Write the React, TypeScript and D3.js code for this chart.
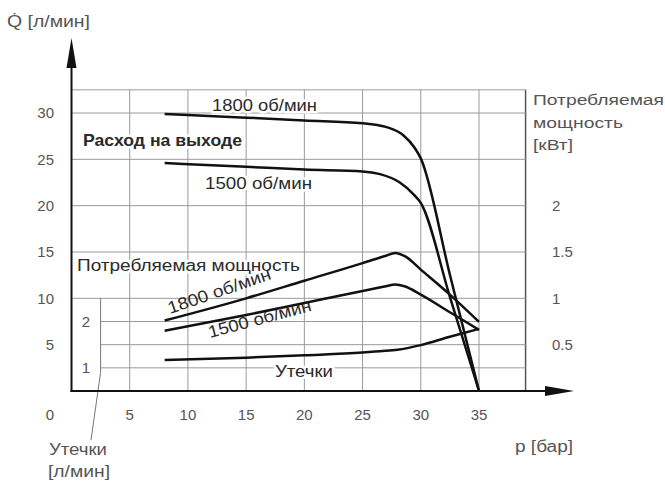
import React from "react";
import * as d3 from "d3";

// pressure (bar) vs flow (l/min)
const flow1800: [number, number][] = [
  [8, 29.9], [15, 29.5], [20, 29.2], [25, 28.9], [27, 28.5], [28.5, 27.6], [29.5, 26.2], [30, 25.1], [32.5, 12.55], [35, 0],
];
const flow1500: [number, number][] = [
  [8, 24.6], [15, 24.2], [20, 23.9], [25, 23.7], [26.5, 23.4], [28.2, 22.5], [29.4, 21.2], [30, 20.3], [32.5, 10.15], [35, 0],
];
// pressure (bar) vs power (kW)
const power1800: [number, number][] = [
  [8, 0.76], [15, 1.0], [20, 1.19], [25, 1.38], [27, 1.46], [27.8, 1.49], [28.7, 1.45], [30, 1.31], [32.5, 1.04], [35, 0.745],
];
const power1500: [number, number][] = [
  [8, 0.65], [15, 0.82], [20, 0.95], [25, 1.08], [27, 1.13], [27.8, 1.15], [28.6, 1.13], [30, 1.04], [32.5, 0.85], [35, 0.66],
];
// pressure (bar) vs leakage (l/min)
const leakage: [number, number][] = [
  [8, 1.17], [15, 1.22], [20, 1.27], [25, 1.33], [26.5, 1.36], [28, 1.39], [30, 1.49], [32.5, 1.67], [35, 1.84],
];

const xTicks = [5, 10, 15, 20, 25, 30, 35];
const qTicks = [5, 10, 15, 20, 25, 30];
const qGridFull = [10, 15, 20, 25, 30, 32.5];
const qGridPart = [2.5, 5, 7.5];
const pTicks = ["0.5", "1", "1.5", "2"];
const lTicks = ["1", "2"];

const FONT = "'Liberation Sans', Arial, sans-serif";

export default function App() {
  const x = d3.scaleLinear().domain([0, 35]).range([71.5, 479]);
  const yQ = d3.scaleLinear().domain([0, 30]).range([391, 113]);
  const yP = d3.scaleLinear().domain([0, 2]).range([yQ(0), yQ(20)]);
  const yL = d3.scaleLinear().domain([1, 2]).range([yQ(2.5), yQ(7.5)]);
  const xMax = 39;

  const lineQ = d3.line<[number, number]>().x(d => x(d[0])).y(d => yQ(d[1])).curve(d3.curveMonotoneX);
  const lineP = d3.line<[number, number]>().x(d => x(d[0])).y(d => yP(d[1])).curve(d3.curveMonotoneX);
  const lineL = d3.line<[number, number]>().x(d => x(d[0])).y(d => yL(d[1])).curve(d3.curveMonotoneX);

  const grid = "#9a9a9a";
  const labelColor = "#555";
  const ink = "#2a2a2a";
  const halo = { stroke: "#fff", strokeWidth: 5, paintOrder: "stroke" as const, strokeLinejoin: "round" as const };
  const fit = (w: number) => ({ textLength: w, lengthAdjust: "spacingAndGlyphs" as const });

  return (
    <svg width={665} height={481} style={{ position: "absolute", left: 0, top: 0, background: "#fff" }} fontFamily={FONT}>
      <rect width={665} height={481} fill="#fff" />
      {/* vertical grid */}
      {xTicks.map(t => (
        <line key={"vx" + t} x1={x(t)} x2={x(t)} y1={yQ(0)} y2={yQ(32.5)} stroke={grid} strokeWidth={1} />
      ))}
      <line x1={x(xMax)} x2={x(xMax)} y1={yQ(0)} y2={yQ(32.5)} stroke="#555" strokeWidth={1.5} />
      {/* horizontal grid */}
      {qGridFull.map(t => (
        <line key={"hq" + t} x1={x(0)} x2={x(xMax)} y1={yQ(t)} y2={yQ(t)} stroke={grid} strokeWidth={1} />
      ))}
      {qGridPart.map(t => (
        <line key={"hp" + t} x1={x(2.5)} x2={x(xMax)} y1={yQ(t)} y2={yQ(t)} stroke={grid} strokeWidth={1} />
      ))}
      {/* leakage sub-axis */}
      <line x1={x(2.5)} x2={x(2.5)} y1={yQ(10)} y2={yQ(2)} stroke="#777" strokeWidth={1} />
      <line x1={x(2.5)} x2={91} y1={yQ(2)} y2={440} stroke="#777" strokeWidth={1} />

      {/* labels */}
      <text x={83} y={146} fontSize={17} fontWeight="bold" fill={ink} {...halo} {...fit(159)}>Расход на выходе</text>
      <text x={212} y={111} fontSize={17} fill={ink} {...halo} {...fit(105)}>1800 об/мин</text>
      <text x={205} y={189} fontSize={17} fill={ink} {...halo} {...fit(107)}>1500 об/мин</text>
      <text x={77} y={271} fontSize={16} fill={ink} {...halo} {...fit(223)}>Потребляемая мощность</text>
      <text x={275} y={377} fontSize={16} fill={ink} {...halo} {...fit(58)}>Утечки</text>
      <text x={0} y={0} fontSize={17} fill={ink} transform="translate(170,314) rotate(-19)" {...fit(108)}>1800 об/мин</text>
      <text x={0} y={0} fontSize={17} fill={ink} transform="translate(210,338) rotate(-15)" {...fit(106)}>1500 об/мин</text>

      {/* curves */}
      <path d={lineQ(flow1800) || ""} fill="none" stroke="#111" strokeWidth={2.5} />
      <path d={lineQ(flow1500) || ""} fill="none" stroke="#111" strokeWidth={2.5} />
      <path d={lineP(power1800) || ""} fill="none" stroke="#111" strokeWidth={2.5} />
      <path d={lineP(power1500) || ""} fill="none" stroke="#111" strokeWidth={2.5} />
      <path d={lineL(leakage) || ""} fill="none" stroke="#111" strokeWidth={2.5} />

      {/* axes */}
      <line x1={x(0)} x2={x(0)} y1={yQ(0) + 1} y2={66} stroke="#111" strokeWidth={2} />
      <path d={`M${x(0)},38 L${x(0) - 5},68 L${x(0) + 5},68 Z`} fill="#111" />
      <line x1={x(0) - 1} x2={548} y1={yQ(0)} y2={yQ(0)} stroke="#111" strokeWidth={2} />
      <path d={`M574,${yQ(0)} L545,${yQ(0) - 5} L545,${yQ(0) + 5} Z`} fill="#111" />

      {/* left tick labels */}
      {qTicks.map(t => (
        <text key={"ql" + t} x={54} y={yQ(t)} dy="0.35em" textAnchor="end" fontSize={15} fill={labelColor}>{t}</text>
      ))}
      <text x={54} y={415} dy="0.35em" textAnchor="end" fontSize={15} fill={labelColor}>0</text>
      {/* bottom tick labels */}
      {xTicks.map(t => (
        <text key={"xl" + t} x={x(t)} y={415} dy="0.35em" textAnchor="middle" fontSize={15} fill={labelColor}>{t}</text>
      ))}
      {/* right power labels */}
      {pTicks.map(t => (
        <text key={"pl" + t} x={552} y={yP(+t)} dy="0.35em" fontSize={15} fill={labelColor}>{t}</text>
      ))}
      {/* leakage labels */}
      {lTicks.map(t => (
        <text key={"ll" + t} x={86} y={yL(+t)} dy="0.35em" textAnchor="middle" fontSize={15} fill={labelColor}>{t}</text>
      ))}

      {/* axis titles */}
      <text x={7} y={21} dy="0.35em" fontSize={16} fill={labelColor} {...fit(83)}>Q̇ [л/мин]</text>
      <text x={515} y={446} dy="0.35em" fontSize={16} fill={labelColor} {...fit(58)}>p [бар]</text>
      <text x={533} y={100} dy="0.35em" fontSize={15.5} fill={labelColor} {...fit(131)}>Потребляемая</text>
      <text x={533} y={123} dy="0.35em" fontSize={15.5} fill={labelColor} {...fit(90)}>мощность</text>
      <text x={533} y={145} dy="0.35em" fontSize={15.5} fill={labelColor} {...fit(40)}>[кВт]</text>
      <text x={49} y={449} dy="0.35em" fontSize={16} fill={labelColor} {...fit(58)}>Утечки</text>
      <text x={48} y={471} dy="0.35em" fontSize={16} fill={labelColor} {...fit(62)}>[л/мин]</text>
    </svg>
  );
}
